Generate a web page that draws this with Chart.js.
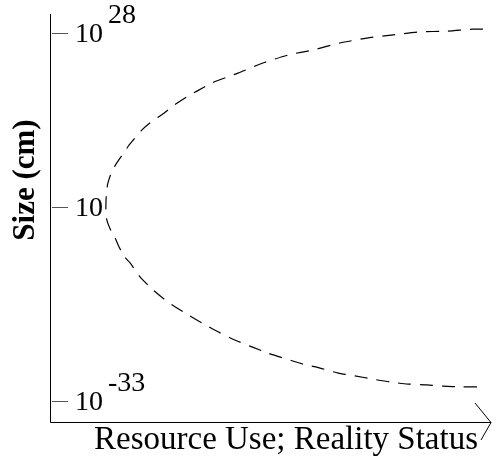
<!DOCTYPE html>
<html>
<head>
<meta charset="utf-8">
<script src="https://cdn.jsdelivr.net/npm/chart.js@4"></script>
<style>
  body { margin: 0; background: #fff; }
  #chart { display: block; }
</style>
</head>
<body>
<canvas id="chart" width="502" height="458"></canvas>
<script>
// curve, from the top end round the nose to the bottom end
// x: resource use (0-100), y: position on the size axis (0-100)
const curveX = [98.4, 96.1, 90.2, 84.1, 78.0, 72.0, 65.9, 59.8, 54.3, 48.4, 42.7, 36.8, 33.4, 31.1, 28.0, 25.9, 22.7, 20.9, 18.0, 16.4, 15.0, 14.0, 13.1, 12.8, 12.7,
                12.8, 13.6, 14.8, 15.7, 17.0, 18.2, 20.5, 23.4, 26.8, 30.7, 34.5, 38.2, 42.0, 45.9, 49.5, 53.9, 57.5, 61.4, 65.5, 69.3, 73.4, 77.3, 81.4, 85.7, 89.3, 93.6, 98.9];
const curveY = [96.3, 96.3, 95.8, 95.6, 94.9, 94.1, 92.9, 91.2, 90.0, 88.0, 85.5, 83.1, 81.1, 79.7, 77.5, 75.7, 73.3, 71.6, 67.9, 65.4, 63.2, 61.3, 58.3, 55.6, 52.7,
                50.0, 47.5, 45.1, 42.9, 40.4, 39.0, 35.5, 32.4, 29.4, 26.7, 24.3, 22.1, 20.1, 18.4, 16.9, 15.4, 14.2, 13.2, 12.0, 11.3, 10.5, 9.8, 9.3, 9.1, 8.8, 8.6, 8.6];

// size axis ticks (not evenly spaced in the original)
const yTickValues = [95.3, 52.7, 5.1];
const yTickBase = ['10', '10', '10'];
const yTickExp = ['28', '', '-33'];

const xTitle = 'Resource Use; Reality Status';
const yTitle = 'Size (cm)';

const serif = "'Liberation Serif', 'DejaVu Serif', serif";

const axesPlugin = {
    id: 'axesPlugin',
    afterDraw(chart) {
        const ctx = chart.ctx;
        const area = chart.chartArea;
        const yScale = chart.scales.y;
        ctx.save();

        // axis lines
        ctx.strokeStyle = '#000';
        ctx.lineWidth = 1;
        ctx.beginPath();
        ctx.moveTo(area.left + 0.5, area.top);
        ctx.lineTo(area.left + 0.5, area.bottom + 0.5);
        ctx.lineTo(area.right + 1, area.bottom + 0.5);
        ctx.stroke();

        // open arrow head at the end of the x axis
        ctx.beginPath();
        ctx.moveTo(area.right - 15, area.bottom - 19);
        ctx.lineTo(area.right + 1, area.bottom + 0.5);
        ctx.lineTo(area.right - 9, area.bottom + 18);
        ctx.stroke();

        // ticks sit inside the plot, labels with superscripts
        yTickValues.forEach((v, i) => {
            const py = Math.round(yScale.getPixelForValue(v)) + 0.5;
            ctx.strokeStyle = '#555';
            ctx.beginPath();
            ctx.moveTo(area.left + 2, py);
            ctx.lineTo(area.left + 18, py);
            ctx.stroke();

            ctx.fillStyle = '#000';
            ctx.textAlign = 'left';
            ctx.textBaseline = 'alphabetic';
            ctx.font = '28px ' + serif;
            const bx = area.left + 25;
            ctx.fillText(yTickBase[i], bx, py + 8);
            if (yTickExp[i]) {
                const w = ctx.measureText(yTickBase[i]).width;
                ctx.fillText(yTickExp[i], bx + w + 5, py - 11);
            }
        });

        // axis titles
        ctx.fillStyle = '#000';
        ctx.font = '33px ' + serif;
        ctx.textAlign = 'center';
        ctx.textBaseline = 'alphabetic';
        ctx.fillText(xTitle, 286, 449);

        ctx.translate(34, 180);
        ctx.rotate(-Math.PI / 2);
        ctx.font = 'bold 31px ' + serif;
        ctx.fillText(yTitle, 0, 0);
        ctx.restore();
    }
};

new Chart(document.getElementById('chart'), {
    type: 'scatter',
    data: {
        datasets: [{
            data: curveX.map((x, i) => ({ x: x, y: curveY[i] })),
            showLine: true,
            borderColor: '#000',
            borderWidth: 1.2,
            borderDash: [13, 9],
            tension: 0.2,
            pointRadius: 0,
            fill: false
        }]
    },
    options: {
        responsive: false,
        animation: false,
        layout: { padding: { left: 50, top: 14, right: 12, bottom: 36 } },
        scales: {
            x: { type: 'linear', min: 0, max: 100, display: false },
            y: { type: 'linear', min: 0, max: 100, display: false }
        },
        plugins: {
            legend: { display: false },
            tooltip: { enabled: false }
        }
    },
    plugins: [axesPlugin]
});
</script>
</body>
</html>
